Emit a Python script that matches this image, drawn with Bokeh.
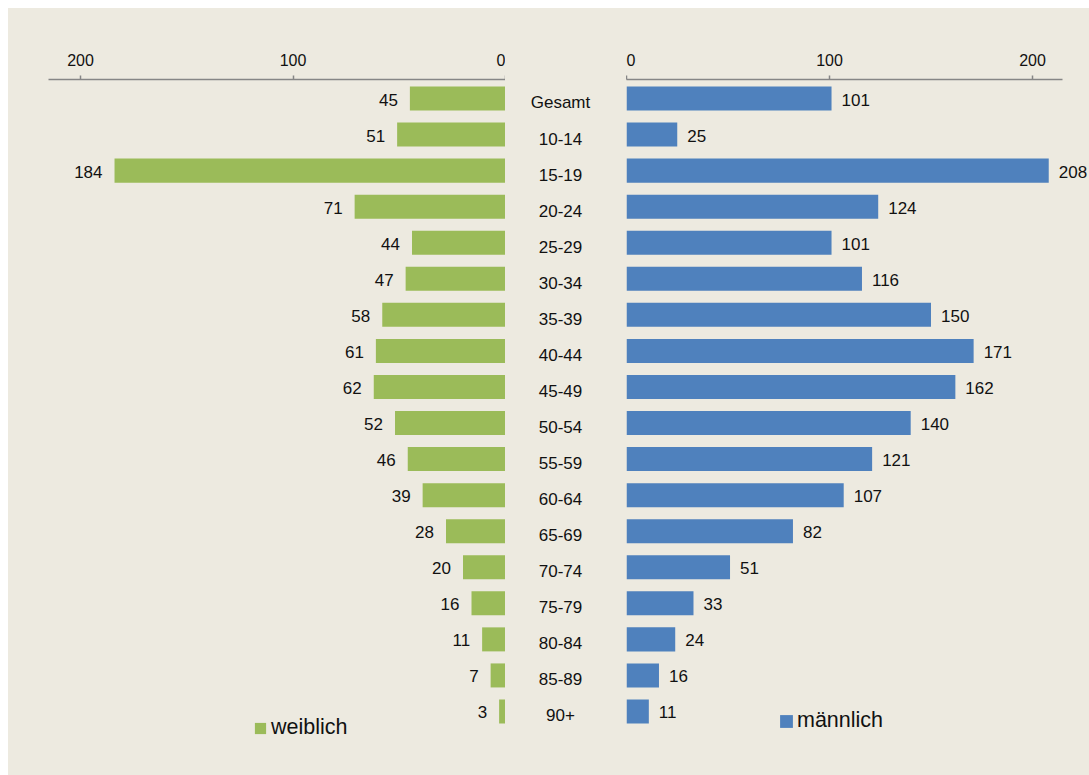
from bokeh.plotting import figure
from bokeh.layouts import row, column, Spacer
from bokeh.models import (ColumnDataSource, Range1d, FixedTicker,
                          LabelSet, Legend, LegendItem)
from bokeh.core.properties import value
from bokeh.embed import file_html
from bokeh.resources import INLINE

categories = ["Gesamt", "10-14", "15-19", "20-24", "25-29", "30-34", "35-39",
              "40-44", "45-49", "50-54", "55-59", "60-64", "65-69", "70-74",
              "75-79", "80-84", "85-89", "90+"]
weiblich = [45, 51, 184, 71, 44, 47, 58, 61, 62, 52, 46, 39, 28, 20, 16, 11, 7, 3]
maennlich = [101, 25, 208, 124, 101, 116, 150, 171, 162, 140, 121, 107, 82, 51,
             33, 24, 16, 11]
tick_values = [0, 100, 200]

BG = "#EDEAE0"
GREEN = "#9BBB59"
BLUE = "#4F81BD"
AXIS = "#868686"
FONT = "Liberation Sans"
TXT = "#111111"
H = 767
TOP = 71

pos = list(range(len(categories)))  # row index, 0 = top
src = ColumnDataSource(dict(pos=pos, cat=categories, w=weiblich, m=maennlich,
                            wl=[str(v) for v in weiblich],
                            ml=[str(v) for v in maennlich]))

y_range = Range1d(18.775, -0.527)


def style(p):
    p.background_fill_color = BG
    p.border_fill_color = BG
    p.outline_line_color = None
    p.grid.visible = False
    p.min_border_left = 0
    p.min_border_right = 0
    p.min_border_top = TOP
    p.min_border_bottom = 0


def style_axis(ax, bounds):
    ax.ticker = FixedTicker(ticks=tick_values)
    ax.bounds = bounds
    ax.axis_line_color = AXIS
    ax.axis_line_width = 1.5
    ax.major_tick_line_color = AXIS
    ax.major_tick_line_width = 1.5
    ax.major_tick_in = 0
    ax.major_tick_out = 4
    ax.minor_tick_line_color = None
    ax.major_label_text_font = FONT
    ax.major_label_text_font_size = "16px"
    ax.major_label_text_color = TXT
    ax.major_label_standoff = 10


# Left: women
p1 = figure(width=497, height=H, x_range=Range1d(233.9, 0), y_range=y_range,
            x_axis_location="above", y_axis_location=None,
            output_backend="svg", toolbar_location=None)
style(p1)
style_axis(p1.xaxis[0], (0, 215.06))
rw = p1.hbar(y="pos", left=0, right="w", height=0.666, source=src,
             fill_color=GREEN, line_color=None)
p1.add_layout(LabelSet(x="w", y="pos", text="wl", source=src, x_offset=-12,
                       y_offset=-1, text_align="right", text_baseline="middle",
                       text_font=value(FONT), text_font_size="17px",
                       text_color=TXT))
leg1 = Legend(items=[LegendItem(label="weiblich", renderers=[rw])],
              location=(245, 35), padding=0, margin=0, spacing=0,
              glyph_width=14, glyph_height=14, label_standoff=4,
              label_text_font=FONT, label_text_font_size="21.5px",
              label_text_color=TXT, border_line_color=None,
              background_fill_alpha=0)
p1.add_layout(leg1)

# Middle: categories
p2 = figure(width=121, height=H, x_range=Range1d(-1, 1.2), y_range=y_range,
            x_axis_location=None, y_axis_location=None,
            output_backend="svg", toolbar_location=None)
style(p2)
p2.text(x=0, y="pos", text="cat", source=src, text_align="center",
        text_baseline="middle", text_font=value(FONT), text_font_size="17px",
        text_color=TXT, y_offset=4)

# Right: men
p3 = figure(width=463, height=H, x_range=Range1d(0, 228.08), y_range=y_range,
            x_axis_location="above", y_axis_location=None,
            output_backend="svg", toolbar_location=None)
style(p3)
style_axis(p3.xaxis[0], (0, 214.8))
rm = p3.hbar(y="pos", left=0, right="m", height=0.666, source=src,
             fill_color=BLUE, line_color=None)
p3.add_layout(LabelSet(x="m", y="pos", text="ml", source=src, x_offset=10,
                       y_offset=-1, text_align="left", text_baseline="middle",
                       text_font=value(FONT), text_font_size="17px",
                       text_color=TXT))
leg3 = Legend(items=[LegendItem(label="männlich", renderers=[rm])],
              location=(152, 42), padding=0, margin=0, spacing=0,
              glyph_width=16, glyph_height=16, label_standoff=3,
              label_text_font=FONT, label_text_font_size="21.5px",
              label_text_color=TXT, border_line_color=None,
              background_fill_alpha=0)
p3.add_layout(leg3)

panel = row(p1, p2, p3, spacing=0, styles={"background-color": BG})
layout = column(Spacer(height=8), row(Spacer(width=8), panel, spacing=0),
                spacing=0)
open("out.html", "w").write(file_html(layout, INLINE))
